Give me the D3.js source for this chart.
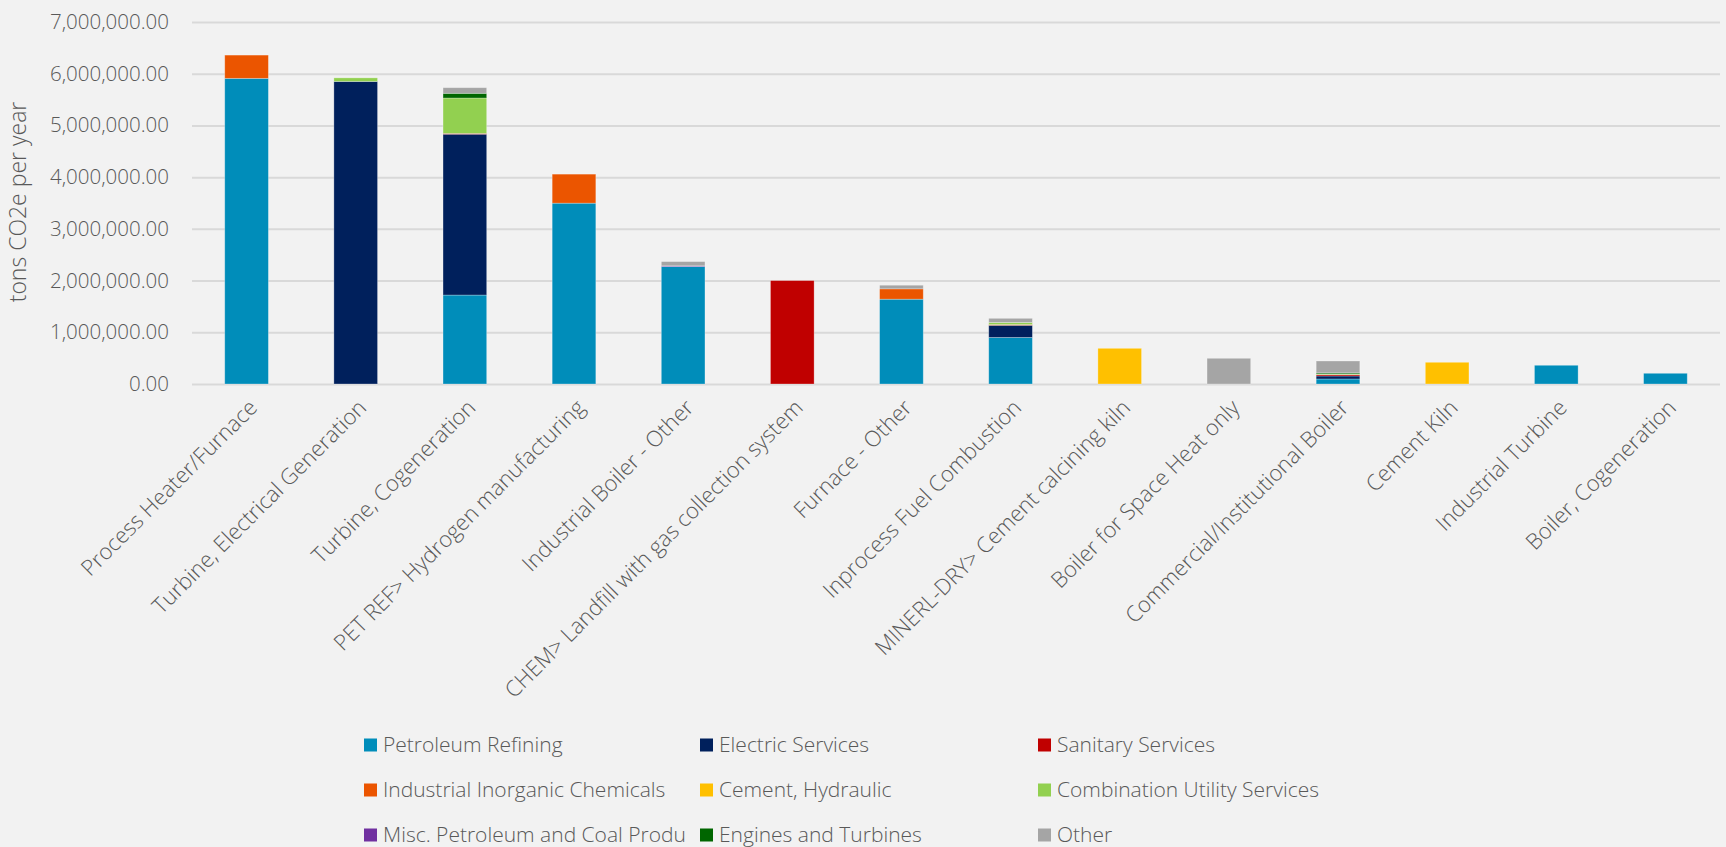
<!DOCTYPE html>
<html>
<head>
<meta charset="utf-8">
<script src="https://cdn.jsdelivr.net/npm/d3@7"></script>
<style>
  html, body { margin: 0; padding: 0; background: #f2f2f2; }
  svg { display: block; }
  text { font-family: "Open Sans", "Noto Sans", sans-serif; font-weight: 300; fill: #595959; }
</style>
</head>
<body>
<svg id="chart" width="1726" height="847"></svg>
<script>
// Emission source categories (x axis)
const categories = [
  "Process Heater/Furnace",
  "Turbine, Electrical Generation",
  "Turbine, Cogeneration",
  "PET REF> Hydrogen manufacturing",
  "Industrial Boiler - Other",
  "CHEM> Landfill with gas collection system",
  "Furnace - Other",
  "Inprocess Fuel Combustion",
  "MINERL-DRY> Cement calcining kiln",
  "Boiler for Space Heat only",
  "Commercial/Institutional Boiler",
  "Cement Kiln",
  "Industrial Turbine",
  "Boiler, Cogeneration"
];

// Industry series, in stacking order (tons CO2e per year)
const seriesNames = [
  "Petroleum Refining",
  "Electric Services",
  "Sanitary Services",
  "Industrial Inorganic Chemicals",
  "Cement, Hydraulic",
  "Combination Utility Services",
  "Misc. Petroleum and Coal Produ",
  "Engines and Turbines",
  "Other"
];

const petroleumRefining   = [5910000, 0, 1720000, 3497000, 2270000, 0, 1640000, 900000, 0, 0, 97000, 0, 362000, 207000];
const electricServices    = [0, 5850000, 3110000, 0, 0, 0, 0, 235000, 0, 0, 58000, 0, 0, 0];
const sanitaryServices    = [0, 0, 15000, 0, 0, 2000000, 0, 0, 0, 0, 25000, 0, 0, 0];
const industrialInorganic = [450000, 0, 0, 561000, 0, 0, 200000, 15000, 0, 0, 0, 0, 0, 0];
const cementHydraulic     = [0, 0, 0, 0, 0, 0, 0, 0, 690000, 0, 0, 420000, 0, 0];
const combinationUtility  = [0, 70000, 685000, 0, 0, 0, 0, 40000, 0, 0, 15000, 0, 0, 0];
const miscPetroleumCoal   = [0, 0, 0, 0, 15000, 0, 0, 0, 0, 0, 0, 0, 0, 0];
const enginesTurbines     = [0, 0, 91000, 0, 0, 0, 0, 0, 0, 0, 20000, 0, 0, 0];
const otherIndustries     = [0, 0, 109000, 0, 82000, 0, 70000, 80000, 0, 497000, 230000, 0, 0, 0];

const seriesValues = [
  petroleumRefining, electricServices, sanitaryServices, industrialInorganic,
  cementHydraulic, combinationUtility, miscPetroleumCoal, enginesTurbines, otherIndustries
];

const seriesColors = ["#008dba", "#00205c", "#c00000", "#eb5500", "#ffc000", "#92d050", "#7030a0", "#006600", "#a5a5a5"];

const yTicks = [0, 1000000, 2000000, 3000000, 4000000, 5000000, 6000000, 7000000];

// Rows for d3.stack
const rows = categories.map((c, i) => {
  const r = { category: c };
  seriesNames.forEach((s, k) => { r[s] = seriesValues[k][i]; });
  return r;
});

const svg = d3.select("#chart");
const plot = { left: 192, right: 1720, top: 22, bottom: 384 };

const x = d3.scaleBand().domain(categories).range([plot.left, plot.right]).paddingInner(0.6).paddingOuter(0.3);
const y = d3.scaleLinear().domain([0, 7000000]).range([plot.bottom, plot.top]);
const color = d3.scaleOrdinal().domain(seriesNames).range(seriesColors);

// Horizontal gridlines and value labels
const yAxis = d3.axisLeft(y)
  .tickValues(yTicks)
  .tickSize(-(plot.right - plot.left))
  .tickPadding(23)
  .tickFormat(d3.format(",.2f"));

const yg = svg.append("g").attr("transform", `translate(${plot.left},0)`).call(yAxis);
yg.select(".domain").remove();
yg.selectAll(".tick line").attr("stroke", "#d9d9d9").attr("stroke-width", 2);
yg.selectAll(".tick text").style("font-size", "20.5px").attr("fill", "#595959");

// Stacked bars
const stacked = d3.stack().keys(seriesNames)(rows);
svg.append("g").selectAll("g")
  .data(stacked)
  .join("g")
  .attr("fill", d => color(d.key))
  .selectAll("rect")
  .data(d => d.filter(p => p[1] - p[0] > 0))
  .join("rect")
  .attr("x", d => x(d.data.category))
  .attr("width", x.bandwidth())
  .attr("y", d => y(d[1]))
  .attr("height", d => y(d[0]) - y(d[1]))
  .attr("stroke", "rgba(255,255,255,0.35)")
  .attr("stroke-width", 0.8);

// Category labels, rotated
const xAxis = d3.axisBottom(x).tickSize(0).tickPadding(0);
const xg = svg.append("g").attr("transform", `translate(0,${plot.bottom})`).call(xAxis);
xg.select(".domain").remove();
xg.selectAll(".tick text")
  .style("font-size", "22px")
  .attr("fill", "#595959")
  .attr("text-anchor", "end")
  .attr("dy", "0")
  .attr("transform", "translate(12,25) rotate(-45)");

// Y axis title
svg.append("text")
  .attr("transform", `translate(26,202) rotate(-90)`)
  .attr("text-anchor", "middle")
  .style("font-size", "23px")
  .text("tons CO2e per year");

// Legend: three columns, three rows
const legendCols = [364, 700, 1038];
const legendRows = [745, 790, 835];
const legend = svg.append("g");
seriesNames.forEach((name, i) => {
  const cx = legendCols[i % 3];
  const cy = legendRows[Math.floor(i / 3)];
  legend.append("rect")
    .attr("x", cx).attr("y", cy - 6.5)
    .attr("width", 13).attr("height", 13)
    .attr("fill", color(name));
  legend.append("text")
    .attr("x", cx + 19).attr("y", cy)
    .attr("dy", "0.35em")
    .style("font-size", "21px")
    .text(name);
});
</script>
</body>
</html>
